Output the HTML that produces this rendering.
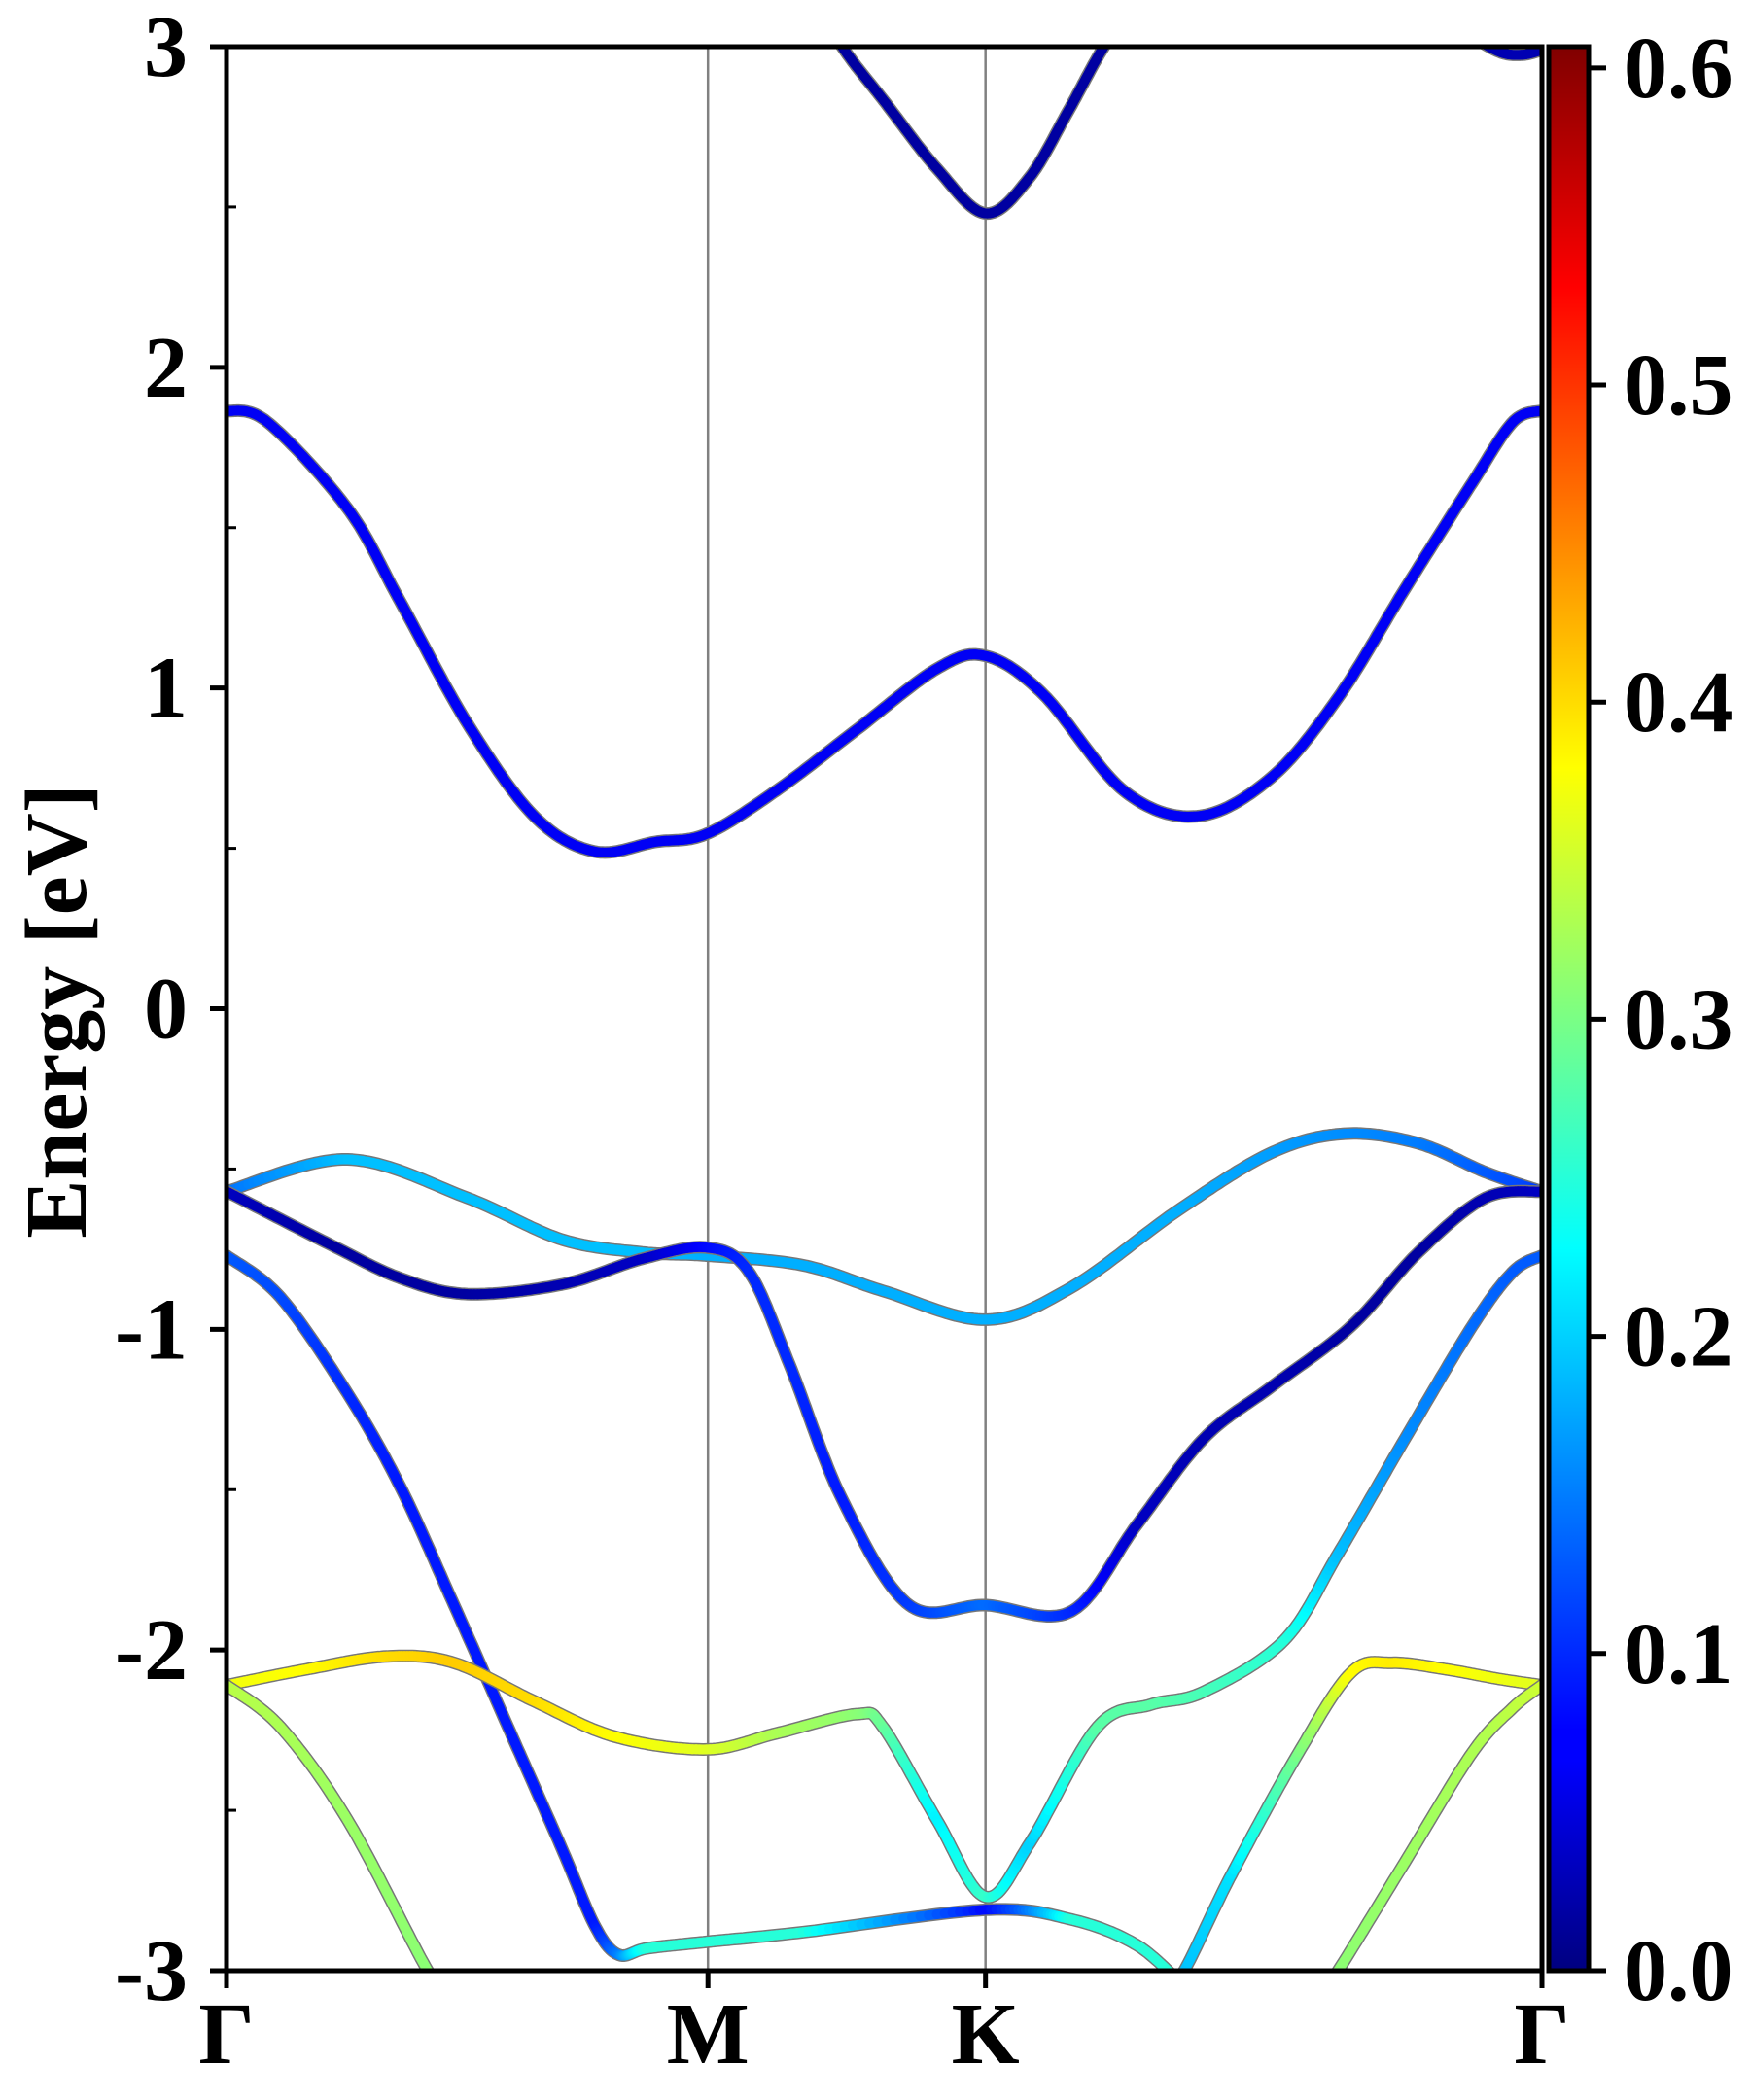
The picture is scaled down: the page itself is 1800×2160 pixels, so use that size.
<!DOCTYPE html>
<html><head><meta charset="utf-8"><style>
html,body{margin:0;padding:0;background:#fff;}
svg{display:block;}
text{font-family:"Liberation Serif",serif;font-weight:bold;fill:#000;}
</style></head><body>
<svg id="chart" width="1800" height="2160" viewBox="0 0 1800 2160">
<defs>
<linearGradient id="jet" x1="0" y1="1" x2="0" y2="0">
<stop offset="0" stop-color="#000080"/>
<stop offset="0.11" stop-color="#0000ff"/>
<stop offset="0.125" stop-color="#0000ff"/>
<stop offset="0.375" stop-color="#00ffff"/>
<stop offset="0.625" stop-color="#ffff00"/>
<stop offset="0.875" stop-color="#ff0000"/>
<stop offset="1" stop-color="#800000"/>
</linearGradient>
<clipPath id="plotclip"><rect x="233" y="48" width="1353" height="1979"/></clipPath>
</defs>
<g id="grid"></g>
<g id="bands" clip-path="url(#plotclip)"></g>
<g id="axes"></g>
<g id="cbar"></g>
<text x="0" y="0" font-size="90" text-anchor="middle" transform="translate(88,1040) rotate(-90)">Energy [eV]</text>
</svg>
<script>
// ---- data ----
const kLabels = ["Γ","M","K","Γ"];
const kPositions = [0, 0.366, 0.577, 1.0];
const yTicks = [-3,-2,-1,0,1,2,3];
const yMinor = [-2.5,-1.5,-0.5,0.5,1.5,2.5];
const cbTicks = [0.0,0.1,0.2,0.3,0.4,0.5,0.6];
const eMin = -3, eMax = 3, wMax = 0.6067;

const bandC1k = [0.43,0.468,0.50,0.54,0.577,0.61,0.64,0.667,0.70];
const bandC1e = [3.25,3.0,2.83,2.62,2.48,2.59,2.80,3.0,3.2];
const bandC1w = [0.02,0.02,0.02,0.02,0.02,0.02,0.02,0.02,0.02];

const bandC2k = [0.94,0.967,0.985,1.0];
const bandC2e = [3.05,2.985,2.975,2.99];
const bandC2w = [0.03,0.03,0.03,0.03];

const bandBk = [0,0.031,0.092,0.132,0.183,0.234,0.280,0.326,0.365,0.418,0.479,0.540,0.577,0.621,0.682,0.738,0.794,0.845,0.896,0.947,0.978,1.0];
const bandBe = [1.865,1.83,1.56,1.27,0.89,0.60,0.49,0.52,0.545,0.68,0.87,1.06,1.10,0.98,0.68,0.60,0.72,0.97,1.31,1.64,1.83,1.865];
const bandBw = [0.07,0.07,0.07,0.07,0.07,0.07,0.07,0.07,0.07,0.07,0.07,0.07,0.07,0.07,0.07,0.07,0.07,0.07,0.07,0.07,0.07,0.07];

const bandV1k = [0,0.092,0.183,0.255,0.316,0.365,0.438,0.499,0.577,0.642,0.723,0.794,0.850,0.906,0.957,1.0];
const bandV1e = [-0.57,-0.47,-0.59,-0.72,-0.76,-0.77,-0.80,-0.88,-0.97,-0.87,-0.63,-0.45,-0.39,-0.42,-0.51,-0.57];
const bandV1w = [0.14,0.19,0.19,0.19,0.19,0.18,0.18,0.18,0.18,0.18,0.18,0.17,0.16,0.15,0.13,0.11];

const bandV2k = [0,0.081,0.132,0.183,0.255,0.316,0.365,0.397,0.428,0.468,0.519,0.577,0.642,0.692,0.743,0.794,0.855,0.906,0.957,1.0];
const bandV2e = [-0.57,-0.74,-0.84,-0.89,-0.86,-0.78,-0.745,-0.82,-1.11,-1.53,-1.86,-1.86,-1.88,-1.61,-1.34,-1.18,-0.99,-0.76,-0.59,-0.57];
const bandV2w = [0.04,0.02,0.02,0.02,0.03,0.04,0.08,0.1,0.1,0.09,0.11,0.14,0.1,0.04,0.03,0.03,0.02,0.02,0.03,0.04];

const bandV3k = [0,0.041,0.092,0.132,0.173,0.214,0.255,0.280,0.298,0.320,0.365,0.438,0.577,0.642,0.692,0.728];
const bandV3e = [-0.77,-0.90,-1.20,-1.49,-1.86,-2.24,-2.62,-2.86,-2.95,-2.93,-2.91,-2.88,-2.81,-2.84,-2.92,-3.05];
const bandV3w = [0.13,0.12,0.1,0.09,0.09,0.09,0.09,0.09,0.15,0.25,0.25,0.25,0.08,0.25,0.25,0.25];

const bandV4k = [0,0.061,0.122,0.173,0.234,0.295,0.365,0.418,0.479,0.499,0.540,0.577,0.611,0.662,0.703,0.743,0.804,0.845,0.896,0.947,0.978,1.0];
const bandV4e = [-2.11,-2.06,-2.02,-2.04,-2.16,-2.27,-2.31,-2.26,-2.20,-2.24,-2.53,-2.77,-2.60,-2.24,-2.17,-2.13,-1.97,-1.70,-1.34,-0.99,-0.82,-0.77];
const bandV4w = [0.37,0.38,0.40,0.41,0.40,0.38,0.36,0.33,0.31,0.29,0.22,0.26,0.20,0.28,0.28,0.27,0.25,0.19,0.16,0.14,0.13,0.13];

const bandV5k = [0.715,0.728,0.764,0.815,0.855,0.886,0.927,0.967,1.0];
const bandV5e = [-3.05,-3.0,-2.70,-2.32,-2.07,-2.04,-2.06,-2.09,-2.11];
const bandV5w = [0.19,0.19,0.21,0.30,0.38,0.39,0.38,0.37,0.36];

const bandV6k = [0,0.041,0.092,0.153,0.17];
const bandV6e = [-2.11,-2.24,-2.53,-3.0,-3.08];
const bandV6w = [0.34,0.33,0.32,0.31,0.31];

const bandV7k = [0.83,0.845,0.896,0.947,0.978,1.0];
const bandV7e = [-3.08,-3.0,-2.66,-2.32,-2.18,-2.11];
const bandV7w = [0.31,0.31,0.32,0.33,0.34,0.35];

const bands = [
 [bandC1k,bandC1e,bandC1w,"band-c1"],[bandC2k,bandC2e,bandC2w,"band-c2"],
 [bandBk,bandBe,bandBw,"band-conduction"],[bandV1k,bandV1e,bandV1w,"band-v1"],
 [bandV2k,bandV2e,bandV2w,"band-v2"],[bandV3k,bandV3e,bandV3w,"band-v3"],
 [bandV4k,bandV4e,bandV4w,"band-v4"],[bandV5k,bandV5e,bandV5w,"band-v5"],
 [bandV6k,bandV6e,bandV6w,"band-v6"],[bandV7k,bandV7e,bandV7w,"band-v7"]
];

const L=233,R=1586,T=48,B=2027;
const NS="http://www.w3.org/2000/svg";
const xS=k=>L+k*(R-L);
const yS=e=>B-(e-eMin)/(eMax-eMin)*(B-T);
function jet(v){
  const t=Math.max(0,Math.min(1,v/wMax));
  const c=x=>Math.round(255*Math.max(0,Math.min(1,x)));
  return `rgb(${c(1.5-Math.abs(4*t-3))},${c(1.5-Math.abs(4*t-2))},${c(1.5-Math.abs(4*t-1))})`;
}
function mk(tag,attrs,parent){const el=document.createElementNS(NS,tag);for(const a in attrs)el.setAttribute(a,attrs[a]);parent.appendChild(el);return el;}

const grid=document.getElementById('grid');
const bg=document.getElementById('bands');
const ax=document.getElementById('axes');
const cb=document.getElementById('cbar');

kPositions.slice(1,-1).forEach((k,i)=>{
  const l=mk('line',{x1:xS(k),x2:xS(k),y1:T,y2:B,stroke:'#808080','stroke-width':2.5},grid);
  
  
});

bands.forEach(([ks,es,ws,name])=>{
  const P=ks.map((k,i)=>[xS(k),yS(es[i]),ws[i]]);
  const pts=[];
  const n=P.length;
  for(let i=0;i<n-1;i++){
    const p0=P[Math.max(0,i-1)],p1=P[i],p2=P[i+1],p3=P[Math.min(n-1,i+2)];
    const steps=24;
    for(let s=0;s<steps;s++){
      const t=s/steps,t2=t*t,t3=t2*t;
      const cr=j=>0.5*((2*p1[j])+(-p0[j]+p2[j])*t+(2*p0[j]-5*p1[j]+4*p2[j]-p3[j])*t2+(-p0[j]+3*p1[j]-3*p2[j]+p3[j])*t3);
      pts.push([cr(0),cr(1),p1[2]+(p2[2]-p1[2])*t]);
    }
  }
  pts.push(P[n-1]);
  const g=mk('g',{},bg);
  
  
  mk('polyline',{points:pts.map(p=>p[0].toFixed(1)+','+p[1].toFixed(1)).join(' '),fill:'none',stroke:'#777','stroke-width':13,'stroke-linejoin':'round','stroke-linecap':'round'},g);
  for(let i=0;i<pts.length-1;i++){
    mk('line',{x1:pts[i][0].toFixed(1),y1:pts[i][1].toFixed(1),x2:pts[i+1][0].toFixed(1),y2:pts[i+1][1].toFixed(1),stroke:jet((pts[i][2]+pts[i+1][2])/2),'stroke-width':10,'stroke-linecap':'round'},g);
  }
});

const fr=mk('rect',{x:L,y:T,width:R-L,height:B-T,fill:'none',stroke:'#000','stroke-width':5},ax);


yTicks.forEach(v=>{
  mk('line',{x1:L-17,x2:L,y1:yS(v),y2:yS(v),stroke:'#000','stroke-width':5},ax);
  const t=mk('text',{x:L-40,y:yS(v)+30,'font-size':90,'text-anchor':'end'},ax);
  t.textContent=v;
  
  
});
yMinor.forEach(v=>{
  mk('line',{x1:L,x2:L+10,y1:yS(v),y2:yS(v),stroke:'#000','stroke-width':3},ax);
});
kPositions.forEach((k,i)=>{
  mk('line',{x1:xS(k),x2:xS(k),y1:B,y2:B+18,stroke:'#000','stroke-width':5},ax);
  const t=mk('text',{x:xS(k),y:2122,'font-size':90,'text-anchor':'middle'},ax);
  t.textContent=kLabels[i];
  
  
});

const CL=1593,CR=1634;
const cbY=v=>B-v/wMax*(B-T);
const cr=mk('rect',{x:CL,y:T,width:CR-CL,height:B-T,fill:'url(#jet)',stroke:'#000','stroke-width':5},cb);


cbTicks.forEach(v=>{
  mk('line',{x1:CR,x2:CR+18,y1:cbY(v),y2:cbY(v),stroke:'#000','stroke-width':5},cb);
  const t=mk('text',{x:1670,y:cbY(v)+30,'font-size':90},cb);
  t.textContent=v.toFixed(1);
  
  
});
</script>
</body></html>
